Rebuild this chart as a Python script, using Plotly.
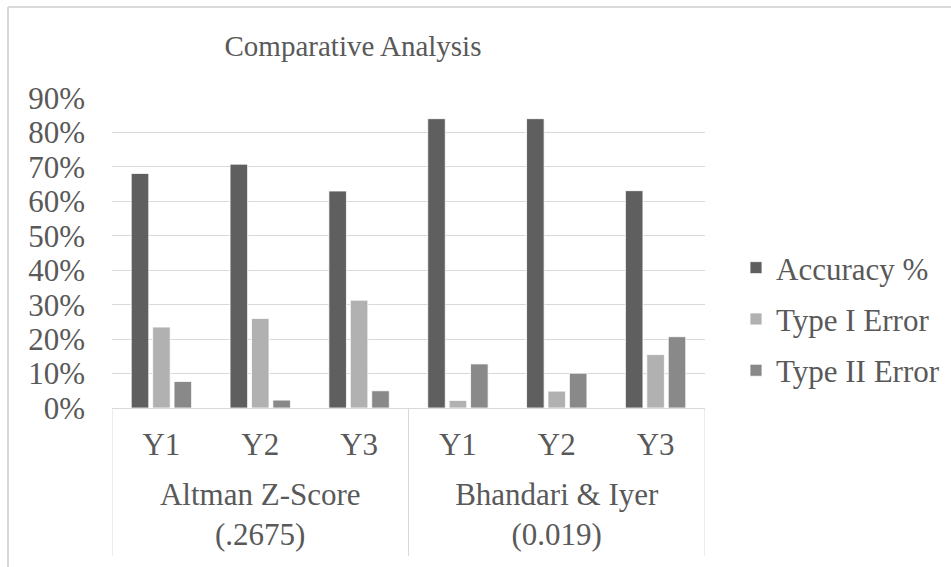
import plotly.graph_objects as go

# Models compared and the years evaluated for each
models = ["Altman Z-Score<br>(.2675)", "Bhandari & Iyer<br>(0.019)"]
years = ["Y1", "Y2", "Y3"]

# Percentages per model/year (Altman Y1..Y3, then Bhandari & Iyer Y1..Y3)
accuracy = [68.1, 70.8, 63.0, 84.0, 84.0, 63.1]
type_i_error = [23.5, 26.0, 31.3, 2.2, 4.9, 15.5]
type_ii_error = [7.7, 2.3, 5.0, 12.8, 10.1, 20.7]

series = [
    ("Accuracy %", accuracy, "#5f5f5f"),
    ("Type I Error", type_i_error, "#b1b1b1"),
    ("Type II Error", type_ii_error, "#898989"),
]

# one slot per (model, year) pair, labelled with the year; models span 3 slots
n_years = len(years)
slots = list(range(len(models) * n_years))
slot_labels = [years[i % n_years] for i in slots]
model_centers = [m * n_years + (n_years - 1) / 2 for m in range(len(models))]
boundaries = [m * n_years - 0.5 for m in range(len(models) + 1)]
x_range = [-0.5, len(slots) - 0.5]

FONT = "Liberation Serif"
TXT = "#595959"
GRID = "#d9d9d9"

fig = go.Figure()
for i, (name, vals, color) in enumerate(series):
    fig.add_trace(go.Bar(
        name=name,
        x=slots,
        y=vals,
        marker=dict(color=color, line=dict(color="#ffffff", width=0.8)),
        legendgroup=f"g{i}",
    ))

# invisible carrier trace so the model-level axis gets drawn
fig.add_trace(go.Scatter(
    x=model_centers, y=[0] * len(models), xaxis="x2", yaxis="y",
    mode="markers", marker=dict(opacity=0), showlegend=False,
    hoverinfo="skip",
))

W, H = 951, 567
ML, MR, MT, MB = 112, 246, 98, 159
pw, ph = W - ML - MR, H - MT - MB


def px_x(p):
    return (p - ML) / pw


def px_y(p):
    return (H - MB - p) / ph


shapes = [
    # outer chart frame (top and left edges)
    dict(type="line", xref="paper", yref="paper",
         x0=px_x(8), x1=px_x(951), y0=px_y(7), y1=px_y(7),
         line=dict(color=GRID, width=2)),
    dict(type="line", xref="paper", yref="paper",
         x0=px_x(8), x1=px_x(8), y0=px_y(7), y1=px_y(567),
         line=dict(color=GRID, width=2)),
]
# dividers between model groups in the category axis
for b in boundaries:
    shapes.append(dict(type="line", xref="x", yref="paper",
                       x0=b, x1=b, y0=0, y1=px_y(556),
                       line=dict(color=GRID, width=1)))

fig.update_layout(
    width=W, height=H,
    margin=dict(l=ML, r=MR, t=MT, b=MB, autoexpand=False),
    paper_bgcolor="white", plot_bgcolor="white",
    font=dict(family=FONT, size=31, color=TXT),
    title=dict(text="Comparative Analysis", x=353 / W, xanchor="center",
               y=1 - 46 / H, yanchor="middle", yref="container",
               font=dict(family=FONT, size=29, color=TXT)),
    barmode="group", bargap=0.35, bargroupgap=0.18,
    showlegend=True,
    legend=dict(x=px_x(736), xanchor="left", y=px_y(319), yanchor="middle",
                font=dict(family=FONT, size=31, color=TXT),
                tracegroupgap=8, bgcolor="rgba(0,0,0,0)"),
    shapes=shapes,
    xaxis=dict(
        type="linear", range=x_range,
        tickmode="array", tickvals=slots, ticktext=slot_labels,
        showline=True, linecolor=GRID, linewidth=1,
        showgrid=False, zeroline=False, ticks="",
        ticklabelstandoff=9,
        tickfont=dict(family=FONT, size=31, color=TXT),
        automargin=False,
    ),
    xaxis2=dict(
        type="linear", range=x_range, overlaying="x", anchor="y", side="bottom",
        tickmode="array", tickvals=model_centers, ticktext=models,
        showline=False, showgrid=False, zeroline=False, ticks="",
        ticklabelstandoff=65,
        tickfont=dict(family=FONT, size=31, color=TXT),
        automargin=False,
    ),
    yaxis=dict(
        range=[0, 90], dtick=10, ticksuffix="%",
        showgrid=True, gridcolor=GRID, gridwidth=1,
        zeroline=False, showline=False, ticks="",
        ticklabelstandoff=26,
        tickfont=dict(family=FONT, size=31, color=TXT),
        automargin=False,
    ),
)

fig.write_html("out.html")
